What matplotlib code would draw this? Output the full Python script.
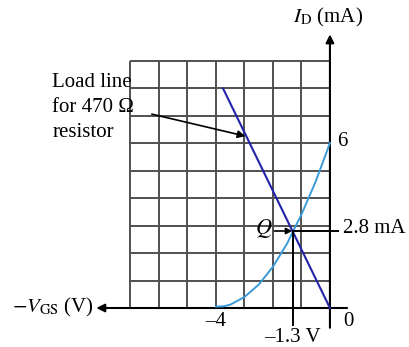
import matplotlib.pyplot as plt

# transfer curve of the JFET
vgs_curve = [-4.0, -3.75, -3.5, -3.0, -2.5, -2.0, -1.5, -1.3, -1.0, -0.5, 0.0]
id_curve = [0.05, 0.06, 0.12, 0.40, 0.85, 1.50, 2.35, 2.78, 3.40, 4.60, 6.0]

# load line for the 470 ohm resistor
vgs_load = [0.0, -3.75]
id_load = [0.0, 7.98]

# operating point
q_vgs = -1.3
q_id = 2.8

grid_v = [-7, -6, -5, -4, -3, -2, -1, 0]
grid_i = [0, 1, 2, 3, 4, 5, 6, 7, 8, 9]

plt.rcParams['font.family'] = ['Liberation Serif', 'DejaVu Serif']
plt.rcParams['mathtext.fontset'] = 'stix'

fig = plt.figure(figsize=(4.10, 3.47), dpi=100)
ax = fig.add_axes([0, 0, 1, 1])
ax.set_xlim(-11.58, 2.81)
ax.set_ylim(-1.418, 11.2)
ax.axis('off')

# grid
ax.vlines(grid_v[:-1], 0, 9, color='#505050', lw=1.4, zorder=1)
ax.hlines(grid_i[1:], -7, 0, color='#505050', lw=1.4, zorder=1)

# axes with arrows
ax.annotate('', xy=(-8.2, 0), xytext=(0.6, 0),
            arrowprops=dict(arrowstyle='-|>', color='black', lw=1.5,
                            mutation_scale=12, shrinkA=0, shrinkB=0), zorder=3)
ax.annotate('', xy=(0, 9.95), xytext=(0, -0.72),
            arrowprops=dict(arrowstyle='-|>', color='black', lw=1.5,
                            mutation_scale=12, shrinkA=0, shrinkB=0), zorder=3)

# curves
ax.plot(vgs_curve, id_curve, color='#3b9ad8', lw=1.4, zorder=4)
ax.plot(vgs_load, id_load, color='#2323a8', lw=1.5, zorder=4)

# Q point guide lines
ax.plot([q_vgs, 0.3], [q_id, q_id], color='black', lw=1.4, zorder=5)
ax.plot([q_vgs, q_vgs], [q_id, -0.62], color='black', lw=1.4, zorder=5)
ax.annotate('', xy=(q_vgs - 0.02, q_id), xytext=(-1.95, q_id),
            arrowprops=dict(arrowstyle='-|>', color='black', lw=1.2,
                            mutation_scale=9, shrinkA=0, shrinkB=0), zorder=6)
ax.text(-2.0, q_id + 0.08, '$Q$', fontsize=16, ha='right', va='center')

# load line label
ax.text(-9.75, 8.55, 'Load line\nfor 470 Ω\nresistor', fontsize=15,
        ha='left', va='top', linespacing=1.45)
ax.annotate('', xy=(-2.97, 6.25), xytext=(-6.25, 7.05),
            arrowprops=dict(arrowstyle='-|>', color='black', lw=1.2,
                            mutation_scale=11, shrinkA=0, shrinkB=0), zorder=6)

# labels
ax.text(0.25, 6.05, '6', fontsize=15, ha='left', va='center')
ax.text(0.45, q_id + 0.08, '2.8 mA', fontsize=15, ha='left', va='center')
ax.text(0.45, -0.5, '0', fontsize=15, ha='left', va='center')
ax.text(-4.0, -0.5, '–4', fontsize=15, ha='center', va='center')
ax.text(q_vgs, -1.08, '–1.3 V', fontsize=15, ha='center', va='center')
ax.text(-8.3, 0.02, r'$-V_{\rm GS}$ (V)', fontsize=15, ha='right', va='center')
ax.text(-1.3, 10.55, r'$I_{\rm D}$ (mA)', fontsize=15, ha='left', va='center')

fig.savefig('out.png', dpi=100)
